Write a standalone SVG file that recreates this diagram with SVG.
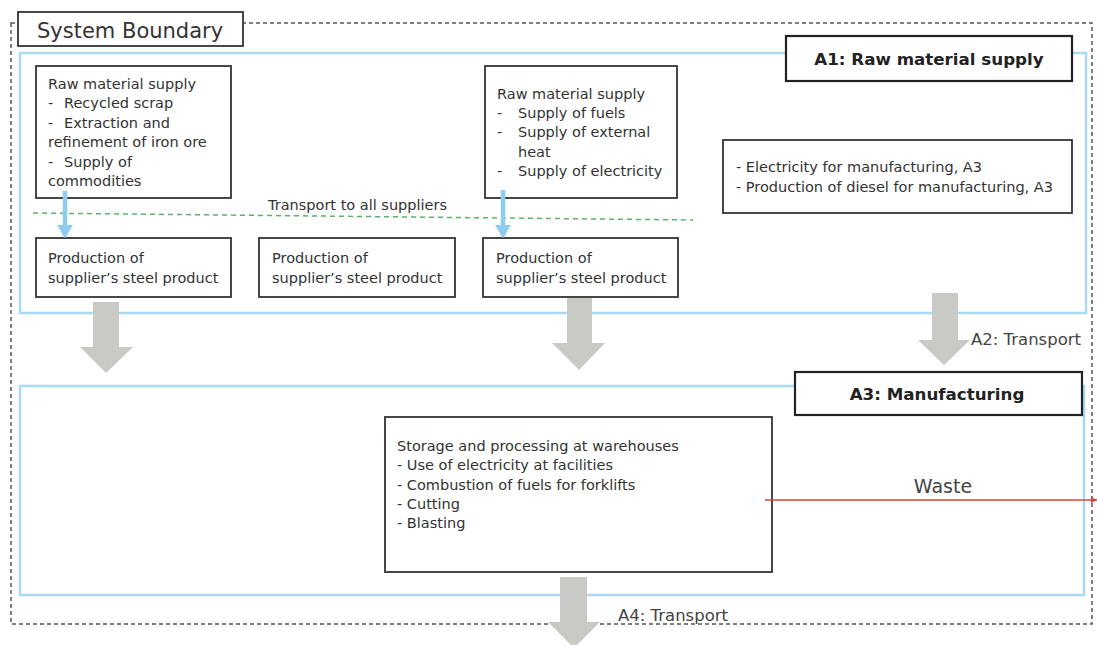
<svg xmlns="http://www.w3.org/2000/svg" width="1097" height="645" viewBox="0 0 1097 645">
<style>
text{font-family:"DejaVu Sans",Verdana,sans-serif;fill:#333;font-size:14.5px}
.box{fill:#fff;stroke:#333;stroke-width:1.8}
.lbl{fill:#fff;stroke:#222;stroke-width:2.2}
.bold{font-weight:bold;font-size:16.7px;fill:#222}
.zone{fill:none;stroke:#abd9f4;stroke-width:2.5}
.garrow{fill:#c9c9c5}
.barrow{stroke:#8ecdf2;stroke-width:4.5;fill:none}
.big{font-size:16.5px;fill:#444}
</style>
<defs>
<marker id="bhead" markerWidth="4" markerHeight="4" refX="2.5" refY="2" orient="auto" markerUnits="strokeWidth">
<path d="M0,0.2 L3,2 L0,3.8 z" fill="#8ecdf2"/>
</marker>
<marker id="rhead" markerWidth="8" markerHeight="8" refX="6" refY="4" orient="auto" markerUnits="userSpaceOnUse">
<path d="M0,1 L6,4 L0,7 z" fill="#d9453a"/>
</marker>
</defs>
<rect width="1097" height="645" fill="#fff"/>
<g id="system-boundary">
<rect x="11" y="23" width="1081" height="601" fill="none" stroke="#555" stroke-width="1.5" stroke-dasharray="4 3"/>
<rect class="box" x="18" y="12" width="225" height="34"/>
<text x="37" y="38" style="font-size:21px">System Boundary</text>
</g>
<g id="A1">
<rect class="zone" x="20" y="53" width="1066" height="260"/>
<rect class="lbl" x="786" y="36" width="286" height="45"/>
<text class="bold" x="929" y="65" text-anchor="middle">A1: Raw material supply</text>
</g>
<g id="A3">
<rect class="zone" x="20" y="386" width="1064" height="209"/>
<rect class="lbl" x="795" y="372" width="287" height="43"/>
<text class="bold" x="937" y="400" text-anchor="middle">A3: Manufacturing</text>
</g>
<g id="transport-line">
<line x1="33" y1="213" x2="693" y2="220" stroke="#5bb36a" stroke-width="1.5" stroke-dasharray="5 4"/>
<text x="268" y="210" font-size="14">Transport to all suppliers</text>
</g>
<g id="raw1">
<rect class="box" x="36" y="66" width="195" height="132"/>
<text x="48" y="89">Raw material supply</text>
<text x="48" y="108">-</text><text x="64" y="108">Recycled scrap</text>
<text x="48" y="128">-</text><text x="64" y="128">Extraction and</text>
<text x="48" y="147">refinement of iron ore</text>
<text x="48" y="167">-</text><text x="64" y="167">Supply of</text>
<text x="48" y="186">commodities</text>
</g>
<g id="raw2">
<rect class="box" x="485" y="66" width="192" height="132"/>
<text x="497" y="99">Raw material supply</text>
<text x="497" y="118">-</text><text x="518" y="118">Supply of fuels</text>
<text x="497" y="137">-</text><text x="518" y="137">Supply of external</text>
<text x="518" y="157">heat</text>
<text x="497" y="176">-</text><text x="518" y="176">Supply of electricity</text>
</g>
<g id="energy">
<rect class="box" x="723" y="140" width="349" height="73"/>
<text x="736" y="172">- Electricity for manufacturing, A3</text>
<text x="736" y="192">- Production of diesel for manufacturing, A3</text>
</g>
<g id="prod1">
<rect class="box" x="36" y="238" width="195" height="59"/>
<text x="48" y="263">Production of</text>
<text x="48" y="283">supplier’s steel product</text>
</g>
<g id="prod2">
<rect class="box" x="259" y="238" width="196" height="59"/>
<text x="272" y="263">Production of</text>
<text x="272" y="283">supplier’s steel product</text>
</g>
<g id="prod3">
<rect class="box" x="483" y="238" width="195" height="59"/>
<text x="496" y="263">Production of</text>
<text x="496" y="283">supplier’s steel product</text>
</g>
<g id="storage">
<rect class="box" x="385" y="417" width="387" height="155"/>
<text x="397" y="451">Storage and processing at warehouses</text>
<text x="397" y="470">- Use of electricity at facilities</text>
<text x="397" y="490">- Combustion of fuels for forklifts</text>
<text x="397" y="509">- Cutting</text>
<text x="397" y="528">- Blasting</text>
</g>
<g id="connectors">
<line class="barrow" x1="65" y1="191" x2="65" y2="236" marker-end="url(#bhead)"/>
<line class="barrow" x1="503" y1="190" x2="503" y2="236" marker-end="url(#bhead)"/>
<polygon class="garrow" points="93,302 119,302 119,347 133,347 106,373 80,347 93,347"/>
<polygon class="garrow" points="567,298 592,298 592,343 605,343 579,370 552,343 567,343"/>
<polygon class="garrow" points="932,293 958,293 958,340 970,340 944,365 918,340 932,340"/>
<polygon class="garrow" points="560,577 587,577 587,622 600,622 574,648 548,622 560,622"/>
<line x1="765" y1="500" x2="1097" y2="500" stroke="#d9453a" stroke-width="1.5" marker-end="url(#rhead)"/>
<text class="big" x="971" y="345">A2: Transport</text>
<text class="big" x="618" y="621">A4: Transport</text>
<text x="943" y="493" text-anchor="middle" style="font-size:19px;fill:#444">Waste</text>
</g>
</svg>
